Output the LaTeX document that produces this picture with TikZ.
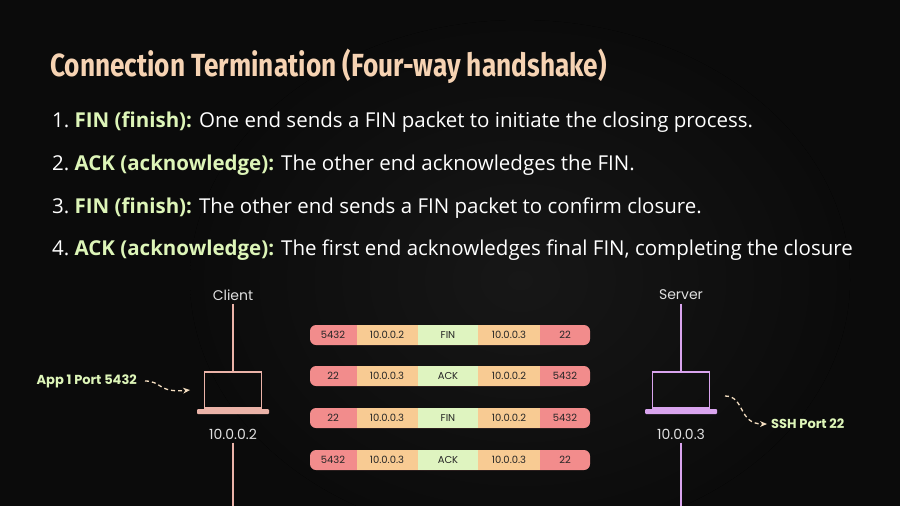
\documentclass[tikz,border=0pt]{standalone}
\usepackage{fontspec}
\setmainfont{Open Sans}
\newfontfamily\titlefont{Fira Sans}
\newfontfamily\diafont{Poppins}
\usetikzlibrary{arrows.meta}
\definecolor{bgcolor}{HTML}{0B0B0B}
\definecolor{titlecolor}{HTML}{F6D3B3}
\definecolor{keycolor}{HTML}{DDF5B8}
\definecolor{portcolor}{HTML}{F28C8C}
\definecolor{ipcolor}{HTML}{F8CB93}
\definecolor{flagcolor}{HTML}{DFF4C0}
\definecolor{clientcolor}{HTML}{EBB3A8}
\definecolor{servercolor}{HTML}{D9A4EE}
\definecolor{dashcolor}{HTML}{F3DDC0}
\tikzset{
  item/.style={anchor=base west, text=white, font=\fontsize{20.5}{20.5}\selectfont, inner sep=0pt},
  host/.style={text=white!88!black, font=\diafont\fontsize{14}{14}\selectfont},
  field/.style={minimum height=20pt, inner sep=0pt, font=\diafont\fontsize{10}{10}\selectfont, text=black!85},
  hint/.style={text=keycolor, font=\diafont\bfseries\fontsize{13}{13}\selectfont, inner sep=0pt},
  hop/.style={dashcolor, line width=1.3pt, dash pattern=on 4pt off 3pt, -{Stealth[length=7pt, width=6pt, line width=0pt]}},
}
% one packet: name, y, five fields
\newcommand{\pkt}[7]{%
  \fill[portcolor, rounded corners=6pt] (310,#2-10) rectangle (590,#2+10);
  \fill[ipcolor] (357,#2-10) rectangle (418,#2+10);
  \fill[flagcolor] (418,#2-10) rectangle (478,#2+10);
  \fill[ipcolor] (478,#2-10) rectangle (540,#2+10);
  \node[field] (#1a) at (333,#2) {#3};
  \node[field] (#1b) at (387,#2) {#4};
  \node[field] (#1c) at (448,#2) {#5};
  \node[field] (#1d) at (509,#2) {#6};
  \node[field] (#1e) at (565,#2) {#7};
}
% laptop: name, centre x, colour
\newcommand{\laptop}[3]{%
  \node[draw=#3, line width=1.5pt, minimum width=57pt, minimum height=36pt, inner sep=0pt] (#1) at (#2,390) {};
  \fill[#3, rounded corners=1pt] (#2-36,409) rectangle (#2+36,414);
}

\begin{document}
\begin{tikzpicture}[x=1pt, y=-1pt]
\useasboundingbox (0,0) rectangle (900,506);
\fill[bgcolor] (0,0) rectangle (900,506);
\fill[inner color=white!9!black, outer color=bgcolor] (520,280) ellipse (330 and 260);

% title
\node[anchor=west, text=titlecolor, inner sep=0pt] (title) at (50,66)
  {\scalebox{0.82}[1]{\titlefont\bfseries\fontsize{32}{32}\selectfont Connection Termination (Four-way handshake)}};

% steps
\node[item] (s1) at (52,127) {1.\ \textcolor{keycolor}{\textbf{FIN (finish):}} One end sends a FIN packet to initiate the closing process.};
\node[item] (s2) at (52,170) {2.\ \textcolor{keycolor}{\textbf{ACK (acknowledge):}} The other end acknowledges the FIN.};
\node[item] (s3) at (52,213) {3.\ \textcolor{keycolor}{\textbf{FIN (finish):}} The other end sends a FIN packet to confirm closure.};
\node[item] (s4) at (52,255) {4.\ \textcolor{keycolor}{\textbf{ACK (acknowledge):}} The first end acknowledges final FIN, completing the closure};

% client side
\node[host] (client) at (233,295) {Client};
\laptop{cpc}{233}{clientcolor}
\node[host] (cip) at (233,434) {10.0.0.2};
\coordinate (cend) at (233,506);
\draw[clientcolor, line width=1.3pt] (client) -- (cpc);
\draw[clientcolor, line width=1.3pt] (cip) -- (cend);
\node[hint, anchor=east] (app) at (137,381) {App 1 Port 5432};
\draw[hop] (app.east) ++(8,0) .. controls (162,381) and (158,393) .. (cpc.west -| 190,393);

% server side
\node[host] (server) at (681,295) {Server};
\laptop{spc}{681}{servercolor}
\node[host] (sip) at (681,434) {10.0.0.3};
\coordinate (send) at (681,506);
\draw[servercolor, line width=1.3pt] (server) -- (spc);
\draw[servercolor, line width=1.3pt] (sip) -- (send);
\node[hint, anchor=west] (ssh) at (771,424) {SSH Port 22};
\draw[hop] (725,396) .. controls (745,396) and (738,424) .. ([xshift=-4pt]ssh.west);

% packets
\pkt{p1}{335}{5432}{10.0.0.2}{FIN}{10.0.0.3}{22}
\pkt{p2}{376}{22}{10.0.0.3}{ACK}{10.0.0.2}{5432}
\pkt{p3}{418}{22}{10.0.0.3}{FIN}{10.0.0.2}{5432}
\pkt{p4}{460}{5432}{10.0.0.3}{ACK}{10.0.0.3}{22}
\end{tikzpicture}
\end{document}
